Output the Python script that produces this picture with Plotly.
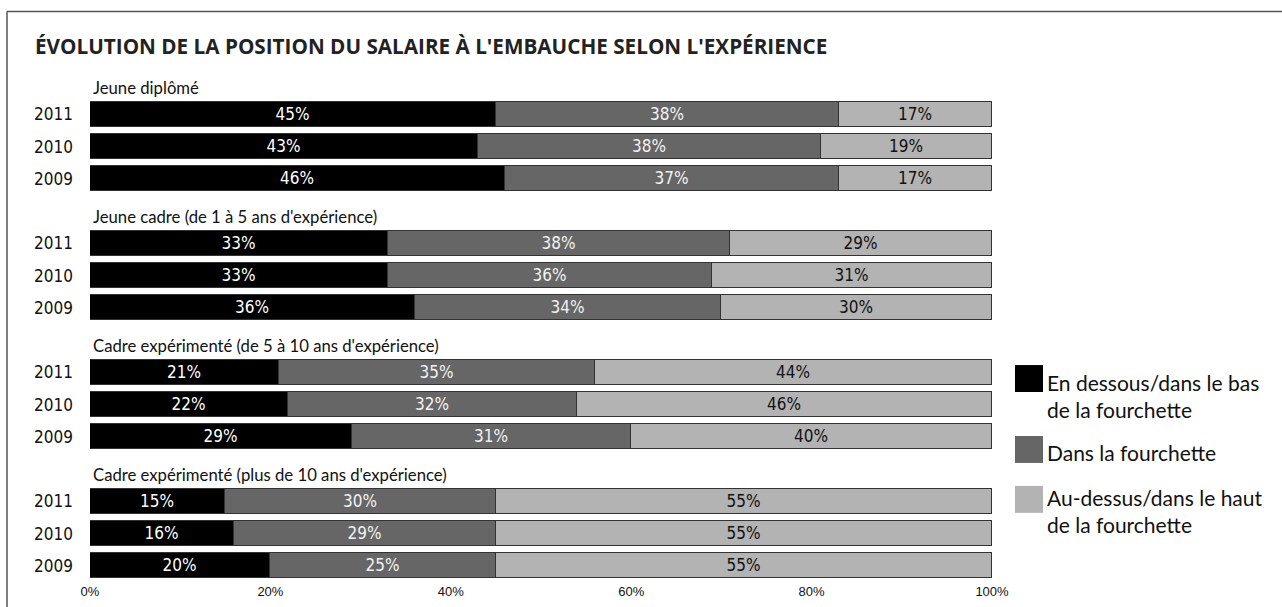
import plotly.graph_objects as go

# data
groups = [
    "Jeune diplômé",
    "Jeune cadre (de 1 à 5 ans d'expérience)",
    "Cadre expérimenté (de 5 à 10 ans d'expérience)",
    "Cadre expérimenté (plus de 10 ans d'expérience)",
]
years = ["2011", "2010", "2009"]

series_names = [
    "En dessous/dans le bas<br>de la fourchette",
    "Dans la fourchette",
    "Au-dessus/dans le haut<br>de la fourchette",
]
# values listed group by group, years 2011, 2010, 2009
below = [45, 43, 46, 33, 33, 36, 21, 22, 29, 15, 16, 20]
inside = [38, 38, 37, 38, 36, 34, 35, 32, 31, 30, 29, 25]
above = [17, 19, 17, 29, 31, 30, 44, 46, 40, 55, 55, 55]

tick_vals = [0, 20, 40, 60, 80, 100]

colors = ["#000000", "#666666", "#b3b3b3"]
text_colors = ["#ffffff", "#f2f2f2", "#111111"]

NARROW = "DejaVu Sans Condensed, Liberation Sans Narrow, sans-serif"
HUMAN = "Lato, Open Sans, sans-serif"

W, H = 1282, 607
ML, MR, MT, MB = 90, 290, 65.6, 24.8
PW, PH = W - ML - MR, H - MT - MB

# row positions: each group = header row + 3 year rows
ypos, ylabels, header_pos = [], [], []
for g in range(len(groups)):
    header_pos.append(g * 4)
    for i, yr in enumerate(years):
        ypos.append(g * 4 + 1 + i)
        ylabels.append(yr)

fig = go.Figure()
for name, vals, col, tcol in zip(series_names, [below, inside, above], colors, text_colors):
    fig.add_trace(go.Bar(
        x=vals, y=ypos, orientation="h", name=name,
        marker=dict(color=col, line=dict(color="#333333", width=1)),
        width=0.77,
        text=[f"{v}%" for v in vals], textposition="inside",
        insidetextanchor="middle", constraintext="none",
        textfont=dict(color=tcol, size=17, family=NARROW),
        showlegend=False, hoverinfo="skip",
    ))

# group headers
for gname, hp in zip(groups, header_pos):
    fig.add_annotation(x=0, y=hp, xref="x", yref="y", text=gname, showarrow=False,
                       xanchor="left", yanchor="middle", xshift=1, yshift=-6,
                       font=dict(size=16.7, color="#111111", family=HUMAN))

# legend drawn by hand (large squares)
def px_x(p):
    return (p - ML) / PW

def px_y(p):
    return (MT + PH - p) / PH

leg_boxes = [(365, 392), (436, 463), (486, 513)]
leg_text_top = [368, 438, 483]
for name, col, (t, b), tt in zip(series_names, colors, leg_boxes, leg_text_top):
    fig.add_shape(type="rect", xref="paper", yref="paper",
                  x0=px_x(1015), x1=px_x(1043), y0=px_y(b), y1=px_y(t),
                  fillcolor=col, line=dict(width=0))
    fig.add_annotation(x=px_x(1045), y=px_y(tt), xref="paper", yref="paper",
                       text=name, showarrow=False, xanchor="left", yanchor="top",
                       align="left",
                       font=dict(size=21, color="#111111", family=HUMAN))

# frame (top and left edges)
fig.add_shape(type="line", xref="paper", yref="paper", x0=px_x(7), x1=px_x(1290),
              y0=px_y(11), y1=px_y(11), line=dict(color="#555555", width=1.5))
fig.add_shape(type="line", xref="paper", yref="paper", x0=px_x(7), x1=px_x(7),
              y0=px_y(11), y1=px_y(620), line=dict(color="#555555", width=1.5))

fig.update_layout(
    width=W, height=H,
    margin=dict(l=ML, r=MR, t=MT, b=MB, autoexpand=False),
    barmode="stack", bargap=0,
    plot_bgcolor="white", paper_bgcolor="white",
    title=dict(text="<b>ÉVOLUTION DE LA POSITION DU SALAIRE À L'EMBAUCHE SELON L'EXPÉRIENCE</b>",
               x=35 / W, xanchor="left", xref="container",
               y=1 - 47 / H, yanchor="middle", yref="container",
               font=dict(size=20.7, color="#222222", family="Open Sans, sans-serif")),
    xaxis=dict(range=[0, 100], tickvals=tick_vals,
               ticktext=[f"{v}%" for v in tick_vals],
               showgrid=False, zeroline=False, showline=False, ticks="",
               automargin=False,
               tickfont=dict(size=13, color="#111111", family="Liberation Sans, Arial, sans-serif")),
    yaxis=dict(range=[15.5, -0.5], tickvals=ypos, ticktext=ylabels,
               showgrid=False, zeroline=False, showline=False, ticks="",
               automargin=False, ticklabelstandoff=16,
               tickfont=dict(size=17, color="#111111", family=NARROW)),
)

fig.write_html("out.html", config={"displayModeBar": False},
               post_script="document.body.style.margin='0';")
